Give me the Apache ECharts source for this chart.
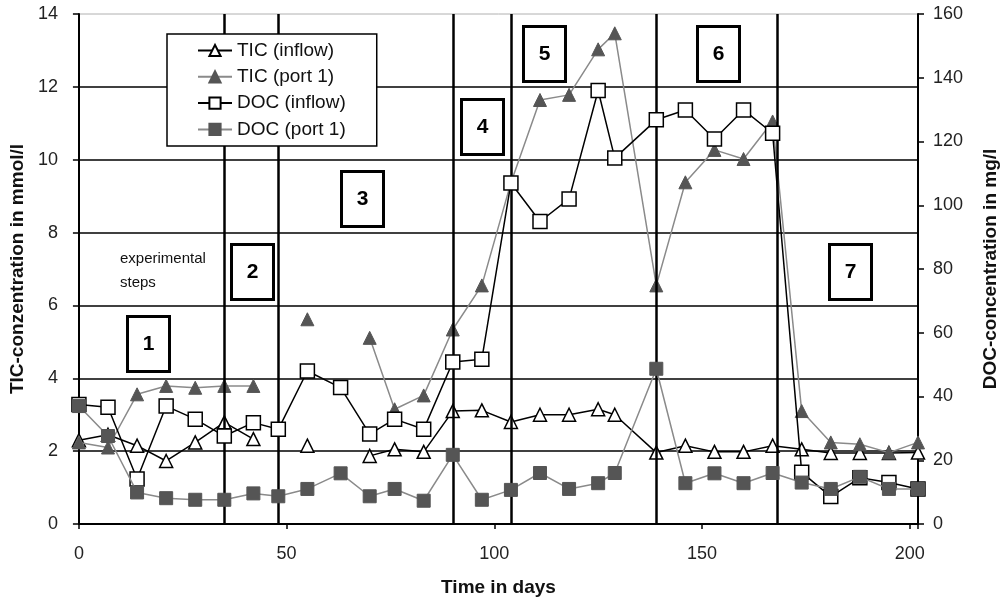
<!DOCTYPE html>
<html>
<head>
<meta charset="utf-8">
<script src="https://cdn.jsdelivr.net/npm/echarts@6/dist/echarts.min.js"></script>
<style>
  html, body { margin: 0; padding: 0; background: #fff; }
  #chart { width: 1008px; height: 602px; }
</style>
</head>
<body>
<div id="chart"></div>
<script>
// sampling days
const days = [0, 7, 14, 21, 28, 35, 42, 48, 55, 63, 70, 76, 83, 90, 97, 104, 111, 118, 125, 129,
  139, 146, 153, 160, 167, 174, 181, 188, 195, 202];

// TIC in mmol/l (left axis)
const ticInflow = [2.3, 2.45, 2.15, 1.73, 2.24, 2.79, 2.33, null, 2.15, null, 1.87, 2.05, 1.98, 3.1, 3.12, 2.8, 3.0, 3.0, 3.15, 3.0,
  1.96, 2.15, 1.98, 1.98, 2.15, 2.05, 1.95, 1.95, 1.95, 1.96];
const ticPort1 = [2.24, 2.1, 3.56, 3.79, 3.74, 3.79, 3.79, null, 5.62, null, 5.11, 3.15, 3.53, 5.34, 6.55, 9.37, 11.64, 11.78, 13.03, 13.47,
  6.55, 9.38, 10.27, 10.02, 11.05, 3.1, 2.24, 2.19, 1.96, 2.24];

// DOC in mg/l (right axis)
const docInflow = [37.5, 36.6, 14.1, 37, 32.9, 27.6, 31.8, 29.7, 48, 42.8, 28.2, 32.9, 29.7, 50.8, 51.7, 107, 94.9, 102, 136, 114.8,
  126.8, 129.9, 120.8, 129.9, 122.6, 16.2, 8.6, 14.5, 13, 11];
const docPort1 = [37, 27.6, 9.9, 8.1, 7.6, 7.6, 9.6, 8.7, 11, 15.9, 8.7, 11, 7.3, 21.7, 7.6, 10.7, 16, 11, 12.8, 16,
  48.7, 12.8, 15.9, 12.8, 16, 13, 11, 14.8, 11, 11];

// boundaries of the experimental steps (days)
const stepBounds = [35, 48, 90, 104, 139, 168];
const stepNames = ['1', '2', '3', '4', '5', '6', '7'];

const pairs = (vals) => days.map((d, i) => [d, vals[i]]);

let chartDom = document.getElementById('chart');
let myChart = echarts.init(chartDom);

const font = '"Liberation Sans", Arial, sans-serif';

// step label boxes (pixel layout)
const boxPos = [[126, 315], [230, 243], [340, 170], [460, 98], [522, 25], [696, 25], [828, 243]];
const boxes = [];
stepNames.forEach((name, i) => {
  boxes.push({
    type: 'group',
    left: boxPos[i][0],
    top: boxPos[i][1],
    z: 100,
    children: [
      { type: 'rect', shape: { x: 0, y: 0, width: 42, height: 55 },
        style: { fill: '#fff', stroke: '#000', lineWidth: 3 } },
      { type: 'text', x: 21, y: 27.5,
        style: { text: name, font: 'bold 21px ' + font, fill: '#000', align: 'center', verticalAlign: 'middle' } },
    ],
  });
});

let option = {
  animation: false,
  textStyle: { fontFamily: font },
  grid: {
    left: 78,
    right: 90,
    top: 14,
    bottom: 77,
    show: true,
    borderColor: '#b0b0b0',
    borderWidth: 1,
  },
  legend: {
    orient: 'vertical',
    left: 167,
    top: 34,
    z: 50,
    backgroundColor: '#fff',
    borderColor: '#000',
    borderWidth: 1.5,
    padding: [7, 31, 7, 30],
    itemGap: 7.3,
    itemWidth: 34,
    itemHeight: 14,
    textStyle: { fontSize: 19, lineHeight: 19, color: '#111', fontFamily: font },
    data: ['TIC (inflow)', 'TIC (port 1)', 'DOC (inflow)', 'DOC (port 1)'],
  },
  xAxis: {
    type: 'value',
    min: 0,
    max: 202,
    interval: 50,
    name: 'Time in days',
    nameLocation: 'middle',
    nameGap: 54,
    nameTextStyle: { fontSize: 19, fontWeight: 'bold', color: '#111' },
    axisLine: { lineStyle: { color: '#000', width: 2 } },
    axisTick: { show: true, length: 5, lineStyle: { color: '#000', width: 1.5 } },
    axisLabel: {
      fontSize: 18,
      color: '#222',
      margin: 21,
      formatter: (v) => (v % 50 === 0 ? String(v) : ''),
    },
    splitLine: { show: false },
  },
  yAxis: [
    {
      type: 'value',
      min: 0,
      max: 14,
      interval: 2,
      name: 'TIC-conzentration in mmol/l',
      nameLocation: 'middle',
      nameGap: 48,
      nameTextStyle: { fontSize: 19, fontWeight: 'bold', color: '#111' },
      axisLine: { show: true, lineStyle: { color: '#000', width: 2 } },
      axisTick: { show: true, length: 6, lineStyle: { color: '#000', width: 1.5 } },
      axisLabel: { fontSize: 18, color: '#222', margin: 21 },
      splitLine: { show: true, showMinLine: false, showMaxLine: false, lineStyle: { color: '#000', width: 1.5 } },
    },
    {
      type: 'value',
      min: 0,
      max: 160,
      interval: 20,
      position: 'right',
      name: 'DOC-concentration in mg/l',
      nameLocation: 'middle',
      nameGap: 63,
      nameTextStyle: { fontSize: 19, fontWeight: 'bold', color: '#111' },
      axisLine: { show: true, lineStyle: { color: '#000', width: 2 } },
      axisTick: { show: true, length: 6, lineStyle: { color: '#000', width: 1.5 } },
      axisLabel: { fontSize: 18, color: '#222', margin: 15 },
      splitLine: { show: false },
    },
  ],
  graphic: [
    {
      type: 'text',
      left: 120,
      top: 247,
      z: 100,
      style: { text: 'experimental\nsteps', font: '15px ' + font, fill: '#111', lineHeight: 24 },
    },
    ...boxes,
  ],
  series: [
    {
      name: 'TIC (inflow)',
      type: 'line',
      yAxisIndex: 0,
      data: pairs(ticInflow),
      symbol: 'triangle',
      symbolSize: 13,
      itemStyle: { color: '#fff', borderColor: '#000', borderWidth: 1.5 },
      lineStyle: { color: '#000', width: 1.5 },
      connectNulls: false,
      z: 3,
    },
    {
      name: 'TIC (port 1)',
      type: 'line',
      yAxisIndex: 0,
      data: pairs(ticPort1),
      symbol: 'triangle',
      symbolSize: 13,
      itemStyle: { color: '#555', borderColor: '#555', borderWidth: 1 },
      lineStyle: { color: '#8a8a8a', width: 1.5 },
      connectNulls: false,
      z: 4,
    },
    {
      name: 'DOC (inflow)',
      type: 'line',
      yAxisIndex: 1,
      data: pairs(docInflow),
      symbol: 'rect',
      symbolSize: 14,
      itemStyle: { color: '#fff', borderColor: '#000', borderWidth: 1.5 },
      lineStyle: { color: '#000', width: 1.5 },
      z: 5,
    },
    {
      name: 'DOC (port 1)',
      type: 'line',
      yAxisIndex: 1,
      data: pairs(docPort1),
      symbol: 'rect',
      symbolSize: 13,
      itemStyle: { color: '#555', borderColor: '#555', borderWidth: 1 },
      lineStyle: { color: '#8a8a8a', width: 1.5 },
      z: 6,
      markLine: {
        silent: true,
        symbol: ['none', 'none'],
        label: { show: false },
        lineStyle: { color: '#000', width: 2.5, type: 'solid' },
        data: stepBounds.map((d) => ({ xAxis: d })),
      },
    },
  ],
};

myChart.setOption(option);
</script>
</body>
</html>
